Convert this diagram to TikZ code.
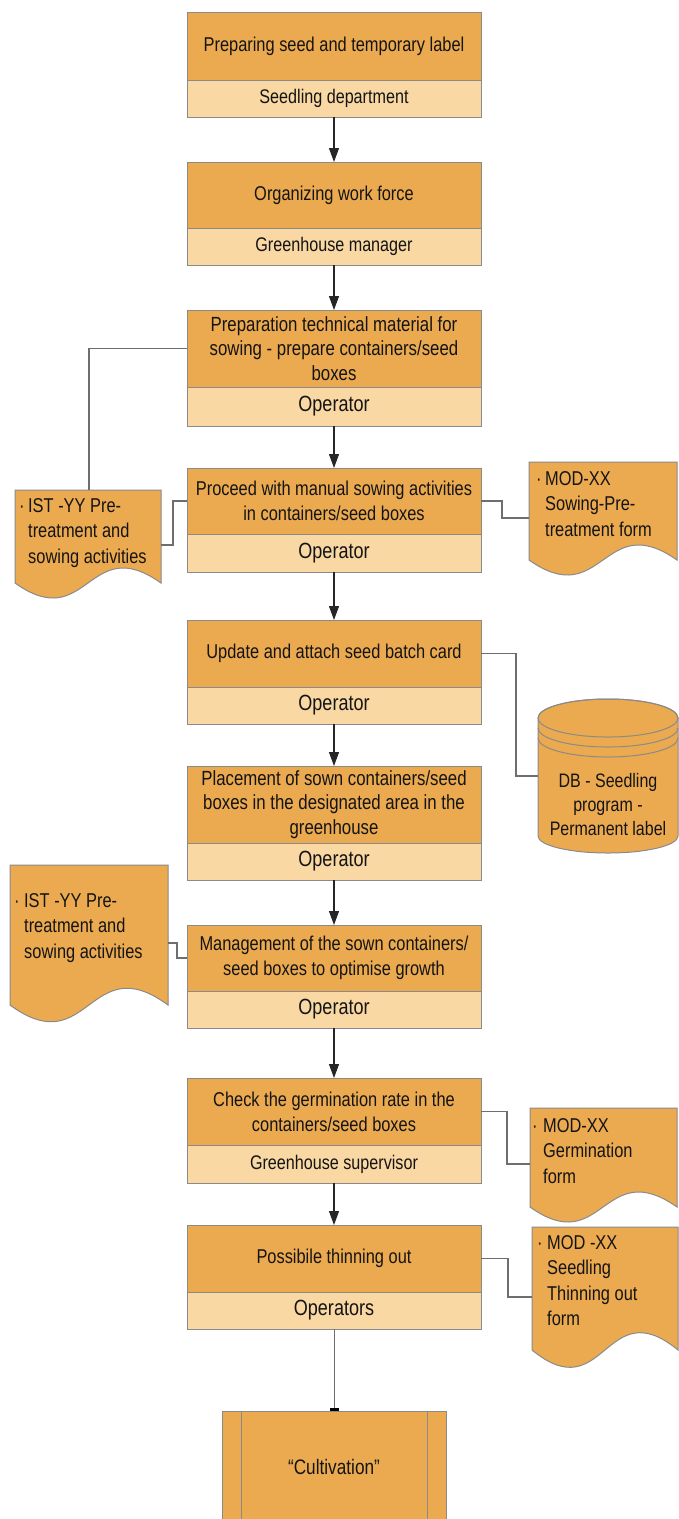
\documentclass[tikz,border=0pt]{standalone}
\usepackage{fontspec}
\setmainfont[FakeStretch=0.82]{Liberation Sans}
\usetikzlibrary{arrows.meta,calc}
\definecolor{orD}{HTML}{EBAA50}
\definecolor{orL}{HTML}{F9D8A3}
\definecolor{bd}{HTML}{8A8A8A}
\definecolor{cn}{HTML}{6E6E6E}
\definecolor{txt}{HTML}{141414}
\newcommand\fsz[2]{\fontsize{#1pt}{#2pt}\selectfont}
\begin{document}
\begin{tikzpicture}[x=1pt,y=-1pt,
  mainbox/.style={draw=bd, line width=1pt, fill=orD, minimum width=294pt, inner sep=0pt, outer sep=0pt, anchor=north, align=center, font=\fsz{20}{25}, text=txt},
  subbox/.style={draw=bd, line width=1pt, fill=orL, minimum width=294pt, minimum height=37pt, inner sep=0pt, outer sep=0pt, anchor=north, align=center, font=\fsz{19.7}{24}, text=txt},
  opbox/.style={subbox, font=\fsz{22}{26}},
  flow/.style={draw=black!85, line width=1.2pt, -{Triangle[length=14pt,width=10pt]}},
  conn/.style={draw=cn, line width=1.1pt},
  docshape/.style={draw=bd, line width=1pt, fill=orD},
  doctext/.style={anchor=north west, align=left, inner sep=0pt, font=\fsz{20}{25.5}, text=txt},
]
\useasboundingbox (0,0) rectangle (679,1519);
\clip (0,0) rectangle (679,1519);
\fill[white] (0,0) rectangle (679,1519);

% ---- process boxes
\node[mainbox, minimum height=68pt] (b1m) at (334,12) {Preparing seed and temporary label};
\node[subbox] (b1s) at (b1m.south) {Seedling department};

\node[mainbox, minimum height=66pt] (b2m) at (334,162) {Organizing work force};
\node[subbox] (b2s) at (b2m.south) {Greenhouse manager};

\node[mainbox, minimum height=77pt, font=\fsz{20.5}{24.5}] (b3m) at (334,310) {Preparation technical material for\\sowing - prepare containers/seed\\boxes};
\node[opbox, minimum height=39pt] (b3s) at (b3m.south) {Operator};

\node[mainbox, minimum height=66pt] (b4m) at (334,468) {Proceed with manual sowing activities\\in containers/seed boxes};
\node[opbox, minimum height=38pt] (b4s) at (b4m.south) {Operator};

\node[mainbox, minimum height=67pt] (b5m) at (334,620) {Update and attach seed batch card};
\node[opbox] (b5s) at (b5m.south) {Operator};

\node[mainbox, minimum height=77pt, font=\fsz{20.5}{24.5}] (b6m) at (334,766) {Placement of sown containers/seed\\boxes in the designated area in the\\greenhouse};
\node[opbox] (b6s) at (b6m.south) {Operator};

\node[mainbox, minimum height=66pt] (b7m) at (334,925) {Management of the sown containers/\\seed boxes to optimise growth};
\node[opbox] (b7s) at (b7m.south) {Operator};

\node[mainbox, minimum height=67pt] (b8m) at (334,1078) {Check the germination rate in the\\containers/seed boxes};
\node[subbox, minimum height=38pt] (b8s) at (b8m.south) {Greenhouse supervisor};

\node[mainbox, minimum height=67pt] (b9m) at (334,1225) {Possibile thinning out};
\node[opbox] (b9s) at (b9m.south) {Operators};

\node[mainbox, minimum width=224pt, minimum height=112pt, font=\fsz{21}{25}] (b10) at (334,1411) {``Cultivation''};
\draw[draw=bd, line width=1pt] ($(b10.north west)+(19,0)$) -- ($(b10.south west)+(19,0)$)
                                ($(b10.north east)+(-19,0)$) -- ($(b10.south east)+(-19,0)$);

% ---- main flow
\draw[flow] (b1s.south) -- (b2m.north);
\draw[flow] (b2s.south) -- (b3m.north);
\draw[flow] (b3s.south) -- (b4m.north);
\draw[flow] (b4s.south) -- (b5m.north);
\draw[flow] (b5s.south) -- (b6m.north);
\draw[flow] (b6s.south) -- (b7m.north);
\draw[flow] (b7s.south) -- (b8m.north);
\draw[flow] (b8s.south) -- (b9m.north);
\draw[draw=cn, line width=1pt, -{Rectangle[length=3pt,width=9pt,color=black]}] (b9s.south) -- (b10.north);

% ---- documents
% doc 1
\draw[docshape] (15,490) -- (161,490) -- (161,583) .. controls (88,531) and (88,635) .. (15,583) -- cycle;
\node[doctext] (d1) at (19,498) {\makebox[9pt][l]{·}IST -YY Pre-\\\hspace*{9pt}treatment and\\\hspace*{9pt}sowing activities};
\coordinate (d1top) at (89,490);
\coordinate (d1out) at (161,545);
% doc 2
\draw[docshape] (529,462) -- (677,462) -- (677,560) .. controls (603,508) and (603,612) .. (529,560) -- cycle;
\node[doctext] (d2) at (536,471) {\makebox[9pt][l]{·}MOD-XX\\\hspace*{9pt}Sowing-Pre-\\\hspace*{9pt}treatment form};
\coordinate (d2in) at (529,518);
% doc 3
\draw[docshape] (10,865) -- (168,865) -- (168,1005) .. controls (89,947) and (89,1063) .. (10,1005) -- cycle;
\node[doctext] (d3) at (14,893) {\makebox[10pt][l]{·}IST -YY Pre-\\\hspace*{10pt}treatment and\\\hspace*{10pt}sowing activities};
\coordinate (d3out) at (168,943);
% doc 4
\draw[docshape] (530,1108) -- (677,1108) -- (677,1207) .. controls (603,1155) and (603,1259) .. (530,1207) -- cycle;
\node[doctext] (d4) at (532,1118) {\makebox[11pt][l]{·}MOD-XX\\\hspace*{11pt}Germination\\\hspace*{11pt}form};
\coordinate (d4in) at (530,1164);
% doc 5
\draw[docshape] (532,1227) -- (678,1227) -- (678,1350) .. controls (605,1290) and (605,1410) .. (532,1350) -- cycle;
\node[doctext] (d5) at (537,1235) {\makebox[10pt][l]{·}MOD -XX\\\hspace*{10pt}Seedling\\\hspace*{10pt}Thinning out\\\hspace*{10pt}form};
\coordinate (d5in) at (532,1297);

% ---- database cylinder
\draw[docshape] (538,718) -- (538,836) arc[start angle=180, end angle=360, x radius=70pt, y radius=17pt]
   -- (678,718) arc[start angle=0, end angle=180, x radius=70pt, y radius=19pt] -- cycle;
\draw[draw=bd, line width=1pt] (608,718) ellipse [x radius=70pt, y radius=19pt];
\draw[draw=bd, line width=1pt] (538,728) arc[start angle=180, end angle=360, x radius=70pt, y radius=19pt];
\draw[draw=bd, line width=1pt] (538,738) arc[start angle=180, end angle=360, x radius=70pt, y radius=19pt];
\node[align=center, inner sep=0pt, font=\fsz{19.5}{24}, text=txt] (db) at (608,805) {DB - Seedling\\program -\\Permanent label};
\coordinate (dbin) at (538,776);

% ---- side connectors
\draw[conn] (b3m.west) -| (d1top);
\draw[conn] (d1out) -- ++(12,0) |- (b4m.west);
\draw[conn] (b4m.east) -- ++(21,0) |- (d2in);
\draw[conn] (b5m.east) -- ++(35,0) |- (dbin);
\draw[conn] (d3out) -- ++(9,0) |- (b7m.west);
\draw[conn] (b8m.east) -- ++(26,0) |- (d4in);
\draw[conn] (b9m.east) -- ++(27,0) |- (d5in);
\end{tikzpicture}
\end{document}
